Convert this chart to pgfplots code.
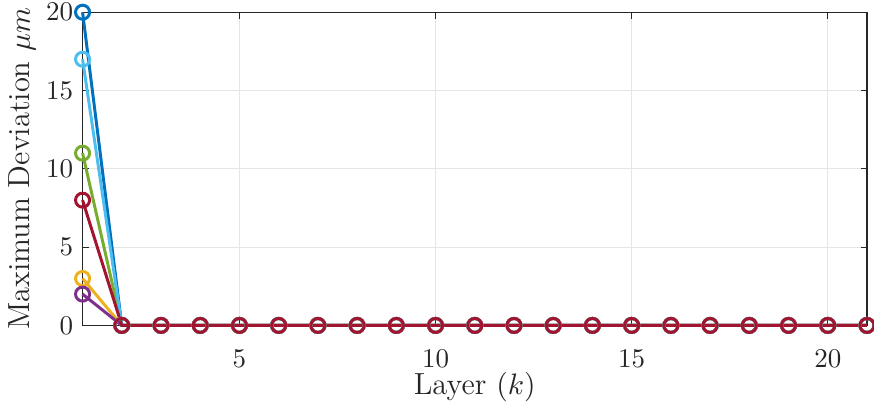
\documentclass[border=0pt]{standalone}
\usepackage{pgfplots}
\pgfplotsset{compat=1.18}

\definecolor{mBlue}{rgb}{0,0.447,0.741}
\definecolor{mYellow}{rgb}{0.929,0.694,0.125}
\definecolor{mPurple}{rgb}{0.494,0.184,0.556}
\definecolor{mGreen}{rgb}{0.466,0.674,0.188}
\definecolor{mCyan}{rgb}{0.301,0.745,0.933}
\definecolor{mRed}{rgb}{0.635,0.078,0.184}
\definecolor{axgray}{rgb}{0.15,0.15,0.15}

\begin{document}
\begin{tikzpicture}
\begin{axis}[
  scale only axis,
  width=290.5pt, height=116pt,
  xmin=1, xmax=21, ymin=0, ymax=20,
  xtick={5,10,15,20}, ytick={0,5,10,15,20},
  tick align=inside, major tick length=2.4pt,
  tick pos=both,
  grid=major,
  major grid style={draw=black!10, line width=0.4pt},
  axis line style={draw=axgray, line width=0.4pt},
  tick style={draw=axgray, line width=0.4pt},
  ticklabel style={font=\fontsize{10.2}{12}\selectfont, text=axgray},
  yticklabel style={inner ysep=1.3pt},
  xticklabel style={yshift=-5.5pt},
  xlabel={Layer $(k)$},
  ylabel={Maximum Deviation $\mu m$},
  label style={font=\fontsize{11.3}{13}\selectfont, text=axgray},
  xlabel style={yshift=5pt},
  ylabel style={yshift=-3pt, inner xsep=0pt},
  clip=false,
  every axis plot/.append style={line width=1.1pt, mark=o, mark size=2.6pt, mark options={solid, line width=1.1pt}},
]
\addplot[mBlue] coordinates {(1,20)(2,0)(3,0)(4,0)(5,0)(6,0)(7,0)(8,0)(9,0)(10,0)(11,0)(12,0)(13,0)(14,0)(15,0)(16,0)(17,0)(18,0)(19,0)(20,0)(21,0)};
\addplot[mYellow] coordinates {(1,3)(2,0)(3,0)(4,0)(5,0)(6,0)(7,0)(8,0)(9,0)(10,0)(11,0)(12,0)(13,0)(14,0)(15,0)(16,0)(17,0)(18,0)(19,0)(20,0)(21,0)};
\addplot[mPurple] coordinates {(1,2)(2,0)(3,0)(4,0)(5,0)(6,0)(7,0)(8,0)(9,0)(10,0)(11,0)(12,0)(13,0)(14,0)(15,0)(16,0)(17,0)(18,0)(19,0)(20,0)(21,0)};
\addplot[mGreen] coordinates {(1,11)(2,0)(3,0)(4,0)(5,0)(6,0)(7,0)(8,0)(9,0)(10,0)(11,0)(12,0)(13,0)(14,0)(15,0)(16,0)(17,0)(18,0)(19,0)(20,0)(21,0)};
\addplot[mCyan] coordinates {(1,17)(2,0)(3,0)(4,0)(5,0)(6,0)(7,0)(8,0)(9,0)(10,0)(11,0)(12,0)(13,0)(14,0)(15,0)(16,0)(17,0)(18,0)(19,0)(20,0)(21,0)};
\addplot[mRed] coordinates {(1,8)(2,0)(3,0)(4,0)(5,0)(6,0)(7,0)(8,0)(9,0)(10,0)(11,0)(12,0)(13,0)(14,0)(15,0)(16,0)(17,0)(18,0)(19,0)(20,0)(21,0)};
\end{axis}
\end{tikzpicture}
\end{document}
